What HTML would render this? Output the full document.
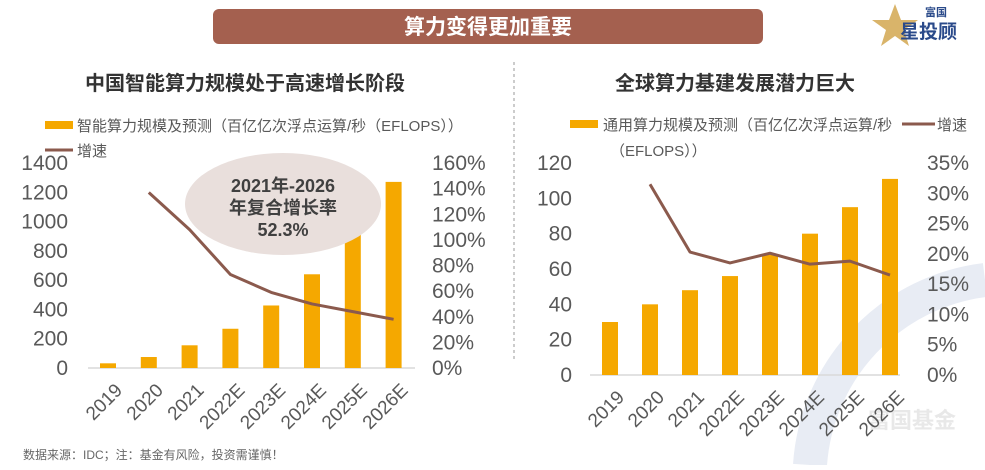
<!DOCTYPE html>
<html><head><meta charset="utf-8">
<style>
body{margin:0;background:#fff;width:985px;height:465px;overflow:hidden;font-family:"Liberation Sans","Noto Sans CJK SC",sans-serif;}
svg text{font-family:"Liberation Sans","Noto Sans CJK SC",sans-serif;}
</style></head>
<body>
<svg width="985" height="465" viewBox="0 0 985 465" xmlns="http://www.w3.org/2000/svg">
  <path d="M 810 465 A 200 200 0 0 1 985 280" fill="none" stroke="#e8ecf4" stroke-width="34"/>
  <text x="912" y="428" font-size="22" font-weight="bold" fill="#e8e8e8" text-anchor="middle">富国基金</text>
  <rect x="213" y="9" width="550" height="35" rx="6" fill="#a4604f"/>
  <text x="488" y="34" font-size="21" font-weight="bold" fill="#fff" text-anchor="middle">算力变得更加重要</text>
  <g>
    <polygon points="895,4 901,20 918,20 904,30 909,46 895,36 881,46 886,30 872,20 889,20" fill="#d9b46a"/>
    <text x="925" y="16" font-size="11" font-weight="bold" fill="#2a4a8a">富国</text>
    <text x="900" y="38" font-size="19" font-weight="bold" fill="#2a4a8a">星投顾</text>
  </g>
  <line x1="514" y1="62" x2="514" y2="360" stroke="#bbb" stroke-width="1.5" stroke-dasharray="3,3"/>
  <text x="245" y="90" font-size="20" font-weight="bold" fill="#333" text-anchor="middle">中国智能算力规模处于高速增长阶段</text>
  <text x="735" y="90" font-size="20" font-weight="bold" fill="#333" text-anchor="middle">全球算力基建发展潜力巨大</text>
  <g id="left"></g>
  <g id="right"></g>
  <text x="23" y="459" font-size="12" fill="#666">数据来源：IDC；注：基金有风险，投资需谨慎！</text>
</svg>
<script>
const categories = ["2019","2020","2021","2022E","2023E","2024E","2025E","2026E"];
const leftBars = [32, 75, 155, 268, 427, 640, 922, 1271];
const leftGrowth = [null, 137, 108, 73, 59, 50, 44, 38];
const leftTicks = [0,200,400,600,800,1000,1200,1400];
const leftPctTicks = [0,20,40,60,80,100,120,140,160];
const rightBars = [30, 40, 48, 56, 68, 80, 95, 111];
const rightGrowth = [null, 31.5, 20.3, 18.5, 20.1, 18.3, 18.8, 16.5];
const rightTicks = [0,20,40,60,80,100,120];
const rightPctTicks = [0,5,10,15,20,25,30,35];
const NS = "http://www.w3.org/2000/svg";
const BAR = "#f5a800", LINE = "#8b5a4d", TXT = "#595959";
function mk(tag, attrs, parent){const e=document.createElementNS(NS,tag);for(const k in attrs)e.setAttribute(k,attrs[k]);parent.appendChild(e);return e;}
function chart(g, cfg){
  const yL = v => cfg.y0 - v / cfg.maxL * (cfg.y0 - cfg.yTop);
  const yR = v => cfg.y0 - v / cfg.maxR * (cfg.y0 - cfg.yTop);
  const xC = i => cfg.x0 + i * cfg.step;
  cfg.ticksL.forEach(t=>{
    const e=mk("text",{x:cfg.lx,y:yL(t)+7,"font-size":21,fill:TXT,"text-anchor":"end"},g);
    
    
    e.textContent=t;
  });
  cfg.ticksR.forEach(t=>{
    const e=mk("text",{x:cfg.rx,y:yR(t)+7,"font-size":21,fill:TXT},g);
    
    
    e.textContent=t+"%";
  });
  const ax=mk("line",{x1:cfg.ax1,x2:cfg.ax2,y1:cfg.y0,y2:cfg.y0,stroke:"#d9d9d9","stroke-width":1.5},g);
  
  
  cfg.bars.forEach((v,i)=>{
    const r=mk("rect",{x:xC(i)-cfg.bw/2,y:yL(v),width:cfg.bw,height:cfg.y0-yL(v),fill:BAR},g);
    
    
  });
  categories.forEach((c,i)=>{
    const x=xC(i)+6, y=cfg.y0+14;
    const t=mk("text",{x:x,y:y,"font-size":19,fill:TXT,"text-anchor":"end",transform:`rotate(-45 ${x} ${y})`,dy:"0.7em"},g);
    
    
    t.textContent=c;
  });
  const pts=cfg.growth.map((v,i)=>v==null?null:`${xC(i)},${yR(v)}`).filter(p=>p).join(" ");
  const pl=mk("polyline",{points:pts,fill:"none",stroke:LINE,"stroke-width":3,"stroke-linejoin":"round"},g);
  
  
}
const L=document.getElementById("left");
chart(L,{x0:108,step:40.8,bw:16,y0:368,yTop:163,maxL:1400,maxR:160,lx:68,rx:432,ax1:88,ax2:415,bars:leftBars,growth:leftGrowth,ticksL:leftTicks,ticksR:leftPctTicks});
const R=document.getElementById("right");
chart(R,{x0:610,step:40,bw:16,y0:375,yTop:163,maxL:120,maxR:35,lx:572,rx:927,ax1:590,ax2:900,bars:rightBars,growth:rightGrowth,ticksL:rightTicks,ticksR:rightPctTicks});
let e;
e=mk("rect",{x:45,y:121,width:28,height:8,fill:BAR},L);


e=mk("text",{x:77,y:131,"font-size":15,fill:TXT},L);


e.textContent="智能算力规模及预测（百亿亿次浮点运算/秒（EFLOPS））";
e=mk("line",{x1:45,x2:73,y1:150,y2:150,stroke:LINE,"stroke-width":3},L);


e=mk("text",{x:77,y:156,"font-size":15,fill:TXT},L);


e.textContent="增速";
e=mk("ellipse",{cx:283,cy:204,rx:98,ry:51,fill:"#e9dfdc"},L);


["2021年-2026","年复合增长率","52.3%"].forEach((s,i)=>{
  const t=mk("text",{x:283,y:192+i*22,"font-size":18,"font-weight":"bold",fill:"#404040","text-anchor":"middle"},L);
  
  
  t.textContent=s;
});
e=mk("rect",{x:570,y:120,width:28,height:8,fill:BAR},R);


e=mk("text",{x:603,y:130,"font-size":15,fill:TXT},R);


e.textContent="通用算力规模及预测（百亿亿次浮点运算/秒";
e=mk("text",{x:610,y:156,"font-size":15,fill:TXT},R);


e.textContent="（EFLOPS））";
e=mk("line",{x1:902,x2:935,y1:124,y2:124,stroke:LINE,"stroke-width":3},R);


e=mk("text",{x:937,y:130,"font-size":15,fill:TXT},R);


e.textContent="增速";
</script>
</body></html>
